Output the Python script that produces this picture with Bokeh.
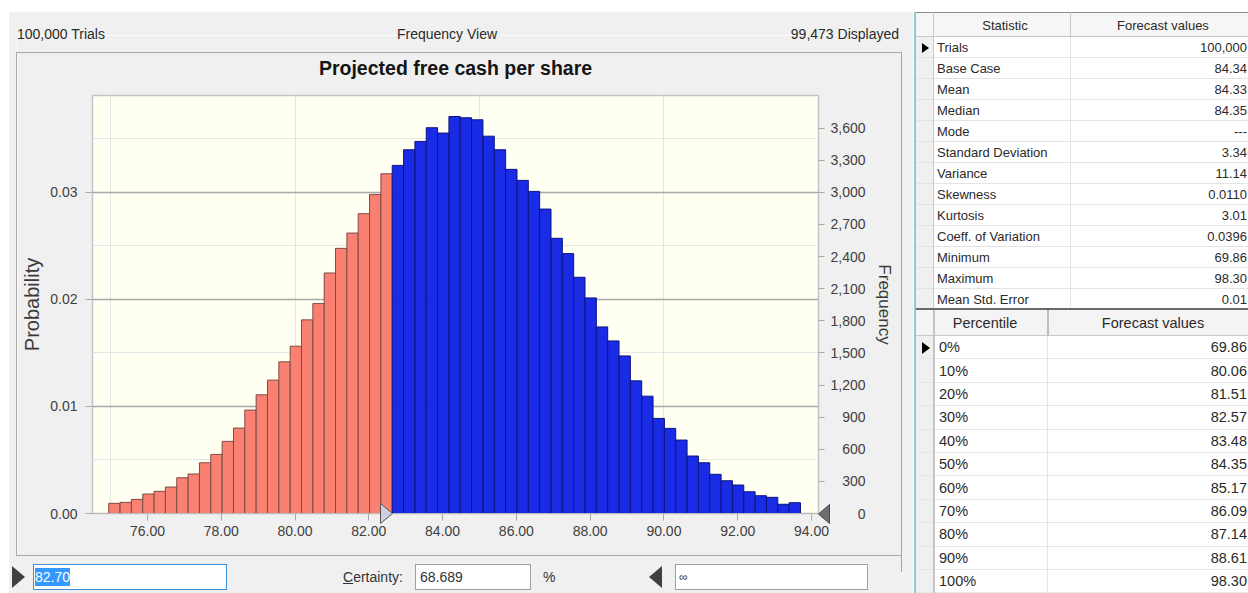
from bokeh.plotting import figure
from bokeh.layouts import row, column
from bokeh.models import (Range1d, LinearAxis, FixedTicker, NumeralTickFormatter, Grid,
                          ColumnDataSource, Div)
from bokeh.embed import file_html
from bokeh.resources import INLINE

# ---------------- data ----------------
chart_title = "Projected free cash per share"
view_name = "Frequency View"
trials = 100000
displayed = 99473
lower_bound = 82.70
certainty = 68.689
upper_bound_text = "\u221e"

bin_start = 74.95
bin_width = 0.3074
frequency = [95, 104, 132, 182, 207, 247, 334, 369, 474, 552, 674, 798, 966, 1109, 1246,
             1417, 1563, 1809, 1961, 2247, 2477, 2620, 2801, 2981, 3174,
             3252, 3398, 3476, 3604, 3554, 3709, 3697, 3678, 3525, 3398,
             3215, 3112, 3009, 2844, 2571, 2428, 2207, 2014, 1743, 1612,
             1472, 1239, 1096, 888, 795, 686, 537, 474, 366, 306,
             266, 203, 166, 151, 86, 101]

x_ticks = [76, 78, 80, 82, 84, 86, 88, 90, 92, 94]
prob_ticks = [0.0, 0.01, 0.02, 0.03]
freq_ticks = [0, 300, 600, 900, 1200, 1500, 1800, 2100, 2400, 2700, 3000, 3300, 3600]

stat_names = ["Trials", "Base Case", "Mean", "Median", "Mode", "Standard Deviation", "Variance",
              "Skewness", "Kurtosis", "Coeff. of Variation", "Minimum", "Maximum", "Mean Std. Error"]
stat_values = ["100,000", "84.34", "84.33", "84.35", "---", "3.34", "11.14",
               "0.0110", "3.01", "0.0396", "69.86", "98.30", "0.01"]
pct_names = ["0%", "10%", "20%", "30%", "40%", "50%", "60%", "70%", "80%", "90%", "100%"]
pct_values = ["69.86", "80.06", "81.51", "82.57", "83.48", "84.35", "85.17", "86.09",
              "87.14", "88.61", "98.30"]

# ---------------- styles ----------------
FONT = "Liberation Sans"
PANEL = "#F0F0F0"
BOXLINE = "#A8A8A8"
RED = "#FA8072"
RED_EDGE = "#7C4B45"
BLUE = "#1A2BE6"
BLUE_EDGE = "#0C1480"
TXT = "#2A2A2A"


def el(x, y, w, h, style=""):
    return (f'<div style="position:absolute;left:{x}px;top:{y}px;width:{w}px;height:{h}px;'
            f'box-sizing:border-box;{style}"></div>')


def txt(x, yc, s, size, align="left", color=TXT, extra=""):
    lh = round(size * 1.3)
    top = yc - lh / 2
    if align == "left":
        box = f"left:{x}px;"
    elif align == "right":
        box = f"left:{x - 400}px;width:400px;text-align:right;"
    else:
        box = f"left:{x - 200}px;width:400px;text-align:center;"
    return (f'<div style="position:absolute;{box}top:{top}px;height:{lh}px;line-height:{lh}px;'
            f'font-size:{size}px;color:{color};white-space:nowrap;{extra}">{s}</div>')


def wrap(w, h, inner, bg="white", overflow="hidden"):
    return (f'<div style="position:relative;width:{w}px;height:{h}px;overflow:{overflow};'
            f'background:{bg};font-family:\'{FONT}\',sans-serif;">{inner}</div>')


def tri(x, y, w, h, direction, color):
    half = h / 2
    side = "left" if direction == "right" else "right"
    b = (f"border-top:{half}px solid transparent;border-bottom:{half}px solid transparent;"
         f"border-{side}:{w}px solid {color};")
    return f'<div style="position:absolute;left:{x}px;top:{y}px;width:0;height:0;{b}"></div>'


def svg_tri(x, y, w, h, direction, fill, stroke):
    if direction == "right":
        pts = f"0.5,0.5 {w - 0.5},{h / 2} 0.5,{h - 0.5}"
    else:
        pts = f"{w - 0.5},0.5 0.5,{h / 2} {w - 0.5},{h - 0.5}"
    return (f'<svg style="position:absolute;left:{x}px;top:{y}px;overflow:visible" width="{w}" '
            f'height="{h}"><polygon points="{pts}" fill="{fill}" stroke="{stroke}" '
            f'stroke-width="1"/></svg>')


LEFT_W = 913
HDR_H = 35
CTL_H = 38
TOTAL_H = 593
MID_H = TOTAL_H - HDR_H - CTL_H
BOX_TOP = 52          # page y of the group box top line
PX0 = 17              # page x of histogram figure
PW, PH = 883, MID_H
ML, MR, MT, MB = 75, 82, 60, 42   # borders around the plot frame

# ---------------- header ----------------
hdr = "".join([
    el(9, 12, LEFT_W - 9, HDR_H - 12, f"background:{PANEL};"),
    txt(17, 34, f"{trials:,} Trials", 14),
    txt(447, 34, view_name, 14, align="center"),
    txt(899, 34, f"{displayed:,} Displayed", 14, align="right"),
])
header = Div(text=wrap(LEFT_W, HDR_H, hdr, overflow="visible"), width=LEFT_W, height=HDR_H,
             margin=0, styles={"overflow": "visible", "z-index": "6", "position": "relative"})

lsp = Div(text=wrap(PX0, MID_H, el(9, 0, PX0 - 9, MID_H, f"background:{PANEL};") +
                    el(16, BOX_TOP - HDR_H, 1, MID_H, f"background:{BOXLINE};") +
                    el(16, BOX_TOP - HDR_H, 1, 1, f"background:{BOXLINE};")),
          width=PX0, height=MID_H, margin=0)

# ---------------- histogram figure ----------------
x_lo, x_hi = 74.51, 94.19
f_hi = 3905

p = figure(width=PW, height=PH, output_backend="svg", toolbar_location=None,
           x_range=Range1d(x_lo, x_hi), y_range=Range1d(0, f_hi),
           x_axis_location=None, y_axis_location=None,
           min_border_left=ML, min_border_right=MR, min_border_top=MT, min_border_bottom=MB)
p.extra_y_ranges = {"prob": Range1d(0, f_hi / trials)}
p.background_fill_color = "#FFFFF2"
p.border_fill_color = PANEL
p.outline_line_color = "#C4C4C4"
p.outline_line_width = 1.5

p.title.text = chart_title
p.title.align = "center"
p.title.text_font = FONT
p.title.text_font_size = "19.5px"
p.title.text_font_style = "bold"
p.title.text_color = "#151515"
p.title.standoff = 34

n = len(frequency)
lefts = [bin_start + i * bin_width for i in range(n)]
rights = [l + bin_width for l in lefts]
centers = [(a + b) / 2 for a, b in zip(lefts, rights)]
fills = [RED if c < lower_bound else BLUE for c in centers]
edges = [RED_EDGE if c < lower_bound else BLUE_EDGE for c in centers]
src = ColumnDataSource(dict(left=lefts, right=rights, top=frequency, fill=fills, edge=edges))

p.add_layout(Grid(dimension=1, ticker=FixedTicker(ticks=prob_ticks[1:]), y_range_name="prob",
                  grid_line_color="#A8A8A8", grid_line_width=1.5))
p.quad(left="left", right="right", bottom=0, top="top", fill_color="fill", line_color="edge",
       line_width=1, source=src)

common = dict(major_label_text_font=FONT, major_label_text_font_size="14px",
              major_label_text_color="#404040", minor_tick_out=0, minor_tick_in=0,
              major_tick_in=0, major_tick_line_color="#A8A8A8",
              axis_label_text_font=FONT, axis_label_text_font_style="normal",
              axis_label_text_color="#3A3A3A")

xaxis = LinearAxis(ticker=FixedTicker(ticks=x_ticks), formatter=NumeralTickFormatter(format="0.00"),
                   major_tick_out=7, axis_line_color="#B8B8B8", major_label_standoff=5, **common)
p.add_layout(xaxis, "below")

yl = LinearAxis(y_range_name="prob", ticker=FixedTicker(ticks=prob_ticks),
                formatter=NumeralTickFormatter(format="0.00"), axis_label="Probability",
                major_tick_out=7, axis_line_color=None, major_label_standoff=8,
                axis_label_standoff=4, axis_label_text_font_size="20px", **common)
p.add_layout(yl, "left")

# right axis labels right-aligned by padding with figure / punctuation spaces
widest = f"{max(freq_ticks):,}"
overrides = {}
for v in freq_ticks:
    s = f"{v:,}"
    pad = "\u2007" * (sum(ch.isdigit() for ch in widest) - sum(ch.isdigit() for ch in s)) \
        + "\u2008" * (widest.count(",") - s.count(","))
    overrides[v] = pad + s
yr = LinearAxis(ticker=FixedTicker(ticks=freq_ticks), major_label_overrides=overrides,
                axis_label="Frequency", major_tick_out=6, axis_line_color=None,
                major_label_standoff=6, axis_label_standoff=6,
                axis_label_text_font_size="17px", **common)
p.add_layout(yr, "right")

# ---------------- right spacer with overlay (box top line + grabbers) ----------------
RX0 = PX0 + PW
frame_l, frame_r = PX0 + ML, PX0 + PW - MR
frame_b = HDR_H + PH - MB
grab_x = frame_l + (lower_bound - x_lo) / (x_hi - x_lo) * (frame_r - frame_l)
ov = "".join([
    el(0, 0, LEFT_W - RX0, MID_H, f"background:{PANEL};"),
    el(1, BOX_TOP - HDR_H, 1, MID_H, f"background:{BOXLINE};"),
    el(16 - RX0, BOX_TOP - HDR_H, RX0 - 16 + 2, 1, f"background:{BOXLINE};"),
    svg_tri(round(grab_x) - 14 - RX0, frame_b - 10 - HDR_H, 13, 21, "right", "#CFCFE0", "#555555"),
    svg_tri(frame_r - RX0, frame_b - 9 - HDR_H, 12, 20, "left", "#6E6E6E", "#4A4A4A"),
])
rsp = Div(text=wrap(LEFT_W - RX0, MID_H, ov, bg="transparent", overflow="visible"),
          width=LEFT_W - RX0, height=MID_H, margin=0,
          styles={"overflow": "visible", "z-index": "5"})

# ---------------- controls ----------------
ctl = "".join([
    el(9, 0, LEFT_W - 9, CTL_H, f"background:{PANEL};"),
    el(16, 0, 886, 1, f"background:{BOXLINE};"),
    tri(12, 11, 13, 22, "right", "#404040"),
    el(33, 9, 194, 26, "background:white;border:1px solid #3C8FDD;"),
    txt(35, 22, f'<span style="background:#3399FF;color:white;padding:1px 0;">{lower_bound:.2f}</span>', 14),
    txt(343, 22, "<u>C</u>ertainty:", 14, color="#333333"),
    el(415, 9, 116, 26, "background:white;border:1px solid #A0A0A0;"),
    txt(420, 22, f"{certainty:.3f}", 14, color="#333333"),
    txt(543, 22, "%", 14, color="#333333"),
    tri(649, 11, 13, 22, "left", "#404040"),
    el(675, 9, 193, 26, "background:white;border:1px solid #A0A0A0;"),
    txt(679, 22, upper_bound_text, 12, color="#333333"),
])
controls = Div(text=wrap(LEFT_W, CTL_H, ctl), width=LEFT_W, height=CTL_H, margin=0)

# ---------------- statistics tables ----------------
TW = 1248 - LEFT_W
X0 = LEFT_W


def tx(px):
    return px - X0


parts = [el(1, 12, 3, TOTAL_H - 12, "background:#8FCACA;")]

# table 1
n1 = len(stat_names)
r1_top, r1_h = 37, 21
t1_bottom = r1_top + r1_h * n1
parts.append(el(3, 12, TW - 3, r1_top - 12,
                "background:#F6F6F6;border-top:1px solid #8A8A8A;border-bottom:1px solid #C8C8C8;"))
parts.append(el(3, r1_top, 17, t1_bottom - r1_top, f"background:{PANEL};"))
for i in range(1, n1 + 1):
    parts.append(el(3, r1_top + r1_h * i - 1, TW - 3, 1, "background:#E4E4E4;"))
parts.append(el(tx(933), 12, 1, t1_bottom - 12, "background:#C8C8C8;"))
parts.append(el(tx(1070), 12, 1, r1_top - 12, "background:#C8C8C8;"))
parts.append(el(tx(1070), r1_top, 1, t1_bottom - r1_top, "background:#E4E4E4;"))
parts.append(txt(tx(1005), 25, "Statistic", 13, align="center"))
parts.append(txt(tx(1163), 25, "Forecast values", 13, align="center"))
for i, (nm, vl) in enumerate(zip(stat_names, stat_values)):
    yc = r1_top + r1_h * i + r1_h / 2
    parts.append(txt(tx(937), yc, nm, 13))
    parts.append(txt(tx(1247), yc, vl, 13, align="right"))
parts.append(tri(tx(922), r1_top + r1_h / 2 - 5, 7, 10, "right", "black"))

# table 2
n2 = len(pct_names)
h2_top, h2_bot = 310, 336
r2_h = 23.4
parts.append(el(3, 308, TW - 3, 2, "background:#6A6A6A;"))
parts.append(el(3, h2_top, TW - 3, h2_bot - h2_top, "background:#F4F4F4;border-bottom:1px solid #C8C8C8;"))
parts.append(el(3, h2_bot, 17, TOTAL_H - h2_bot, f"background:{PANEL};"))
for i in range(1, n2 + 1):
    parts.append(el(3, h2_bot + r2_h * i - 1, TW - 3, 1, "background:#E6E6E6;"))
parts.append(el(tx(933), h2_top, 2, TOTAL_H - h2_top, "background:#C4C4C4;"))
parts.append(el(tx(1047), h2_top, 2, h2_bot - h2_top, "background:#BEBEBE;"))
parts.append(el(tx(1047), h2_bot, 1, TOTAL_H - h2_bot, "background:#E6E6E6;"))
parts.append(txt(tx(985), 323, "Percentile", 14.5, align="center"))
parts.append(txt(tx(1153), 323, "Forecast values", 14.5, align="center"))
for i, (nm, vl) in enumerate(zip(pct_names, pct_values)):
    yc = h2_bot + r2_h * i + r2_h / 2
    parts.append(txt(tx(939), yc, nm, 14.5))
    parts.append(txt(tx(1247), yc, vl, 14.5, align="right"))
parts.append(tri(tx(922), h2_bot + r2_h / 2 - 6, 8, 12, "right", "black"))

table = Div(text=wrap(TW, TOTAL_H, "".join(parts)), width=TW, height=TOTAL_H, margin=0)

left_col = column(header, row(lsp, p, rsp, spacing=0), controls, spacing=0)
layout = row(left_col, table, spacing=0)
open("out.html", "w").write(file_html(layout, INLINE))
